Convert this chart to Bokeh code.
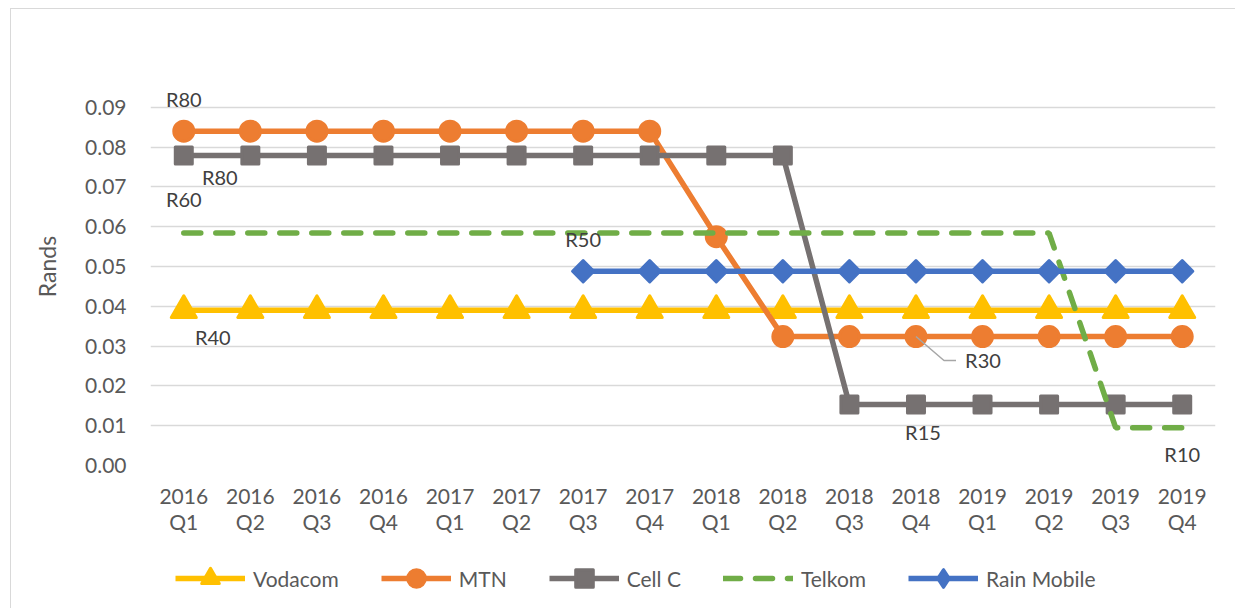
import numpy as np
from bokeh.plotting import figure
from bokeh.layouts import column
from bokeh.models import (Legend, LegendItem, FixedTicker, NumeralTickFormatter,
                          ColumnDataSource, Range1d)
from bokeh.core.properties import value
from bokeh.embed import file_html
from bokeh.resources import INLINE

# ---------------- data ----------------
quarters = ["2016 Q1", "2016 Q2", "2016 Q3", "2016 Q4",
            "2017 Q1", "2017 Q2", "2017 Q3", "2017 Q4",
            "2018 Q1", "2018 Q2", "2018 Q3", "2018 Q4",
            "2019 Q1", "2019 Q2", "2019 Q3", "2019 Q4"]
vodacom = [0.039, 0.039, 0.039, 0.039, 0.039, 0.039, 0.039, 0.039,
           0.039, 0.039, 0.039, 0.039, 0.039, 0.039, 0.039, 0.039]
mtn = [0.084, 0.084, 0.084, 0.084, 0.084, 0.084, 0.084, 0.084,
       0.0575, 0.0324, 0.0324, 0.0324, 0.0324, 0.0324, 0.0324, 0.0324]
cellc = [0.0779, 0.0779, 0.0779, 0.0779, 0.0779, 0.0779, 0.0779, 0.0779,
         0.0779, 0.0779, 0.0153, 0.0153, 0.0153, 0.0153, 0.0153, 0.0153]
telkom = [0.0584, 0.0584, 0.0584, 0.0584, 0.0584, 0.0584, 0.0584, 0.0584,
          0.0584, 0.0584, 0.0584, 0.0584, 0.0584, 0.0584, 0.0095, 0.0095]
rain = [np.nan, np.nan, np.nan, np.nan, np.nan, np.nan, 0.0488, 0.0488,
        0.0488, 0.0488, 0.0488, 0.0488, 0.0488, 0.0488, 0.0488, 0.0488]
series_names = ["Vodacom", "MTN", "Cell C", "Telkom", "Rain Mobile"]
y_ticks = [0.0, 0.01, 0.02, 0.03, 0.04, 0.05, 0.06, 0.07, 0.08, 0.09]

label_series = ["MTN", "Cell C", "Telkom", "Rain Mobile", "Vodacom", "MTN", "Cell C", "Telkom"]
label_quarter = ["2016 Q1", "2016 Q1", "2016 Q1", "2017 Q3", "2016 Q1", "2018 Q4", "2018 Q4", "2019 Q4"]
label_text = ["R80", "R80", "R60", "R50", "R40", "R30", "R15", "R10"]

# ---------------- styles ----------------
label_dx = [0, 36, 0, 0, 29, 67, 7, 0]
label_dy = [-32, 22, -34, -32, 27, 23, 27, 26]

colors = {"Vodacom": "#FFC000", "MTN": "#ED7D31", "Cell C": "#767171",
          "Telkom": "#70AD47", "Rain Mobile": "#4472C4"}
FONT = "Lato"
TXT = "#595959"

Y_TOP = 0.1          # range head-room so the top data label is not clipped
W, H, H_LEG = 1235, 545, 63
LEFT, TOP = 150, 67
FRAME_W, FRAME_H = 1065, 398
RIGHT = W - LEFT - FRAME_W
BOTTOM = H - TOP - FRAME_H

p = figure(width=W, height=H, output_backend="svg", toolbar_location=None,
           x_range=Range1d(0, len(quarters)), y_range=Range1d(0, Y_TOP),
           min_border_left=LEFT, min_border_right=RIGHT,
           min_border_top=TOP, min_border_bottom=BOTTOM,
           background_fill_color="white", border_fill_alpha=0)
p.outline_line_color = None

xs = [i + 0.5 for i in range(len(quarters))]
data = {"Vodacom": vodacom, "MTN": mtn, "Cell C": cellc, "Telkom": telkom, "Rain Mobile": rain}

# axes
p.xaxis.ticker = FixedTicker(ticks=xs)
p.xaxis.major_label_overrides = {x: q.replace(" ", "\n") for x, q in zip(xs, quarters)}
p.xaxis.axis_line_color = None
p.xaxis.major_tick_line_color = None
p.xaxis.minor_tick_line_color = None
p.xaxis.major_label_text_font = FONT
p.xaxis.major_label_text_font_size = "21px"
p.xaxis.major_label_text_color = TXT
p.xaxis.major_label_standoff = 11
p.xaxis.major_label_text_line_height = 1.05

p.yaxis.ticker = FixedTicker(ticks=y_ticks)
p.yaxis.formatter = NumeralTickFormatter(format="0.00")
p.yaxis.axis_line_color = None
p.yaxis.major_tick_line_color = None
p.yaxis.minor_tick_line_color = None
p.yaxis.major_label_text_font = FONT
p.yaxis.major_label_text_font_size = "21px"
p.yaxis.major_label_text_color = TXT
p.yaxis.major_label_standoff = 18
p.yaxis.axis_label = "Rands"
p.yaxis.axis_label_text_font = FONT
p.yaxis.axis_label_text_font_size = "23px"
p.yaxis.axis_label_text_font_style = "normal"
p.yaxis.axis_label_text_color = TXT
p.yaxis.axis_label_standoff = 21

p.xgrid.grid_line_color = None
p.ygrid.grid_line_color = "#D9D9D9"
p.ygrid.grid_line_width = 1.5

markers = {"Vodacom": ("triangle", 25, 0), "MTN": ("circle", 20, 0),
           "Cell C": ("square", 17, 0), "Rain Mobile": ("square", 15, np.pi / 4)}
legend_markers = {"Vodacom": ("triangle", 25), "MTN": ("circle", 20),
                  "Cell C": ("square", 18), "Rain Mobile": ("diamond", 24)}

for name in series_names:
    src = ColumnDataSource(dict(x=xs, y=data[name]))
    c = colors[name]
    if name == "Telkom":
        p.line("x", "y", source=src, line_color=c, line_width=5.5,
               line_dash="17 15", line_cap="round")
    else:
        p.line("x", "y", source=src, line_color=c, line_width=5.5)
        m, s, a = markers[name]
        p.scatter("x", "y", source=src, marker=m, size=s, angle=a,
                  fill_color=c, line_color=c, line_width=3, line_join="round")

# data labels
lx = [quarters.index(q) + 0.5 for q in label_quarter]
ly = [data[s][quarters.index(q)] for s, q in zip(label_series, label_quarter)]

# leader line for R30
px_x = len(quarters) / FRAME_W
px_y = Y_TOP / FRAME_H
k = label_text.index("R30")
x0, y0 = lx[k], ly[k]
p.line([x0, x0 + 28 * px_x, x0 + 40 * px_x], [y0, y0 - 24 * px_y, y0 - 24 * px_y],
       line_color="#A6A6A6", line_width=1.5)

p.text(x=lx, y=ly, text=label_text, x_offset=label_dx, y_offset=label_dy,
       text_font=value(FONT), text_font_size="20px", text_color="#404040",
       text_align="center", text_baseline="middle")

# ---------------- legend strip ----------------
lg = figure(width=W, height=H_LEG, output_backend="svg", toolbar_location=None,
            x_range=Range1d(0, 1), y_range=Range1d(0, 1),
            min_border=0, background_fill_alpha=0, border_fill_alpha=0)
lg.outline_line_color = None
lg.axis.visible = False
lg.grid.visible = False
items = []
for name in series_names:
    c = colors[name]
    hidden = ColumnDataSource(dict(x=[-10, -9], y=[-10, -10]))   # outside the view
    if name == "Telkom":
        r = lg.line("x", "y", source=hidden, line_color=c, line_width=5.5,
                    line_dash="17 15", line_cap="round")
        items.append(LegendItem(label=name, renderers=[r]))
    else:
        r = lg.line("x", "y", source=hidden, line_color=c, line_width=5.5)
        m, s = legend_markers[name]
        sr = lg.scatter("x", "y", source=hidden, marker=m, size=s,
                        fill_color=c, line_color=c, line_width=3, line_join="round")
        items.append(LegendItem(label=name, renderers=[r, sr]))

legend = Legend(items=items, orientation="horizontal", location=(25, 8),
                glyph_width=70, glyph_height=44, label_standoff=8, spacing=42,
                padding=0, margin=0, border_line_color=None, background_fill_alpha=0,
                label_text_font=FONT, label_text_font_size="21px", label_text_color=TXT)
lg.add_layout(legend, "center")

layout = column(p, lg, spacing=0)
layout.styles = {"background-image": "linear-gradient(#D9D9D9,#D9D9D9), linear-gradient(#D9D9D9,#D9D9D9)",
                 "background-position": "10px 8px, 10px 8px",
                 "background-size": "1px 100%, 100% 1px",
                 "background-repeat": "no-repeat"}

open("out.html", "w").write(file_html(layout, INLINE))
